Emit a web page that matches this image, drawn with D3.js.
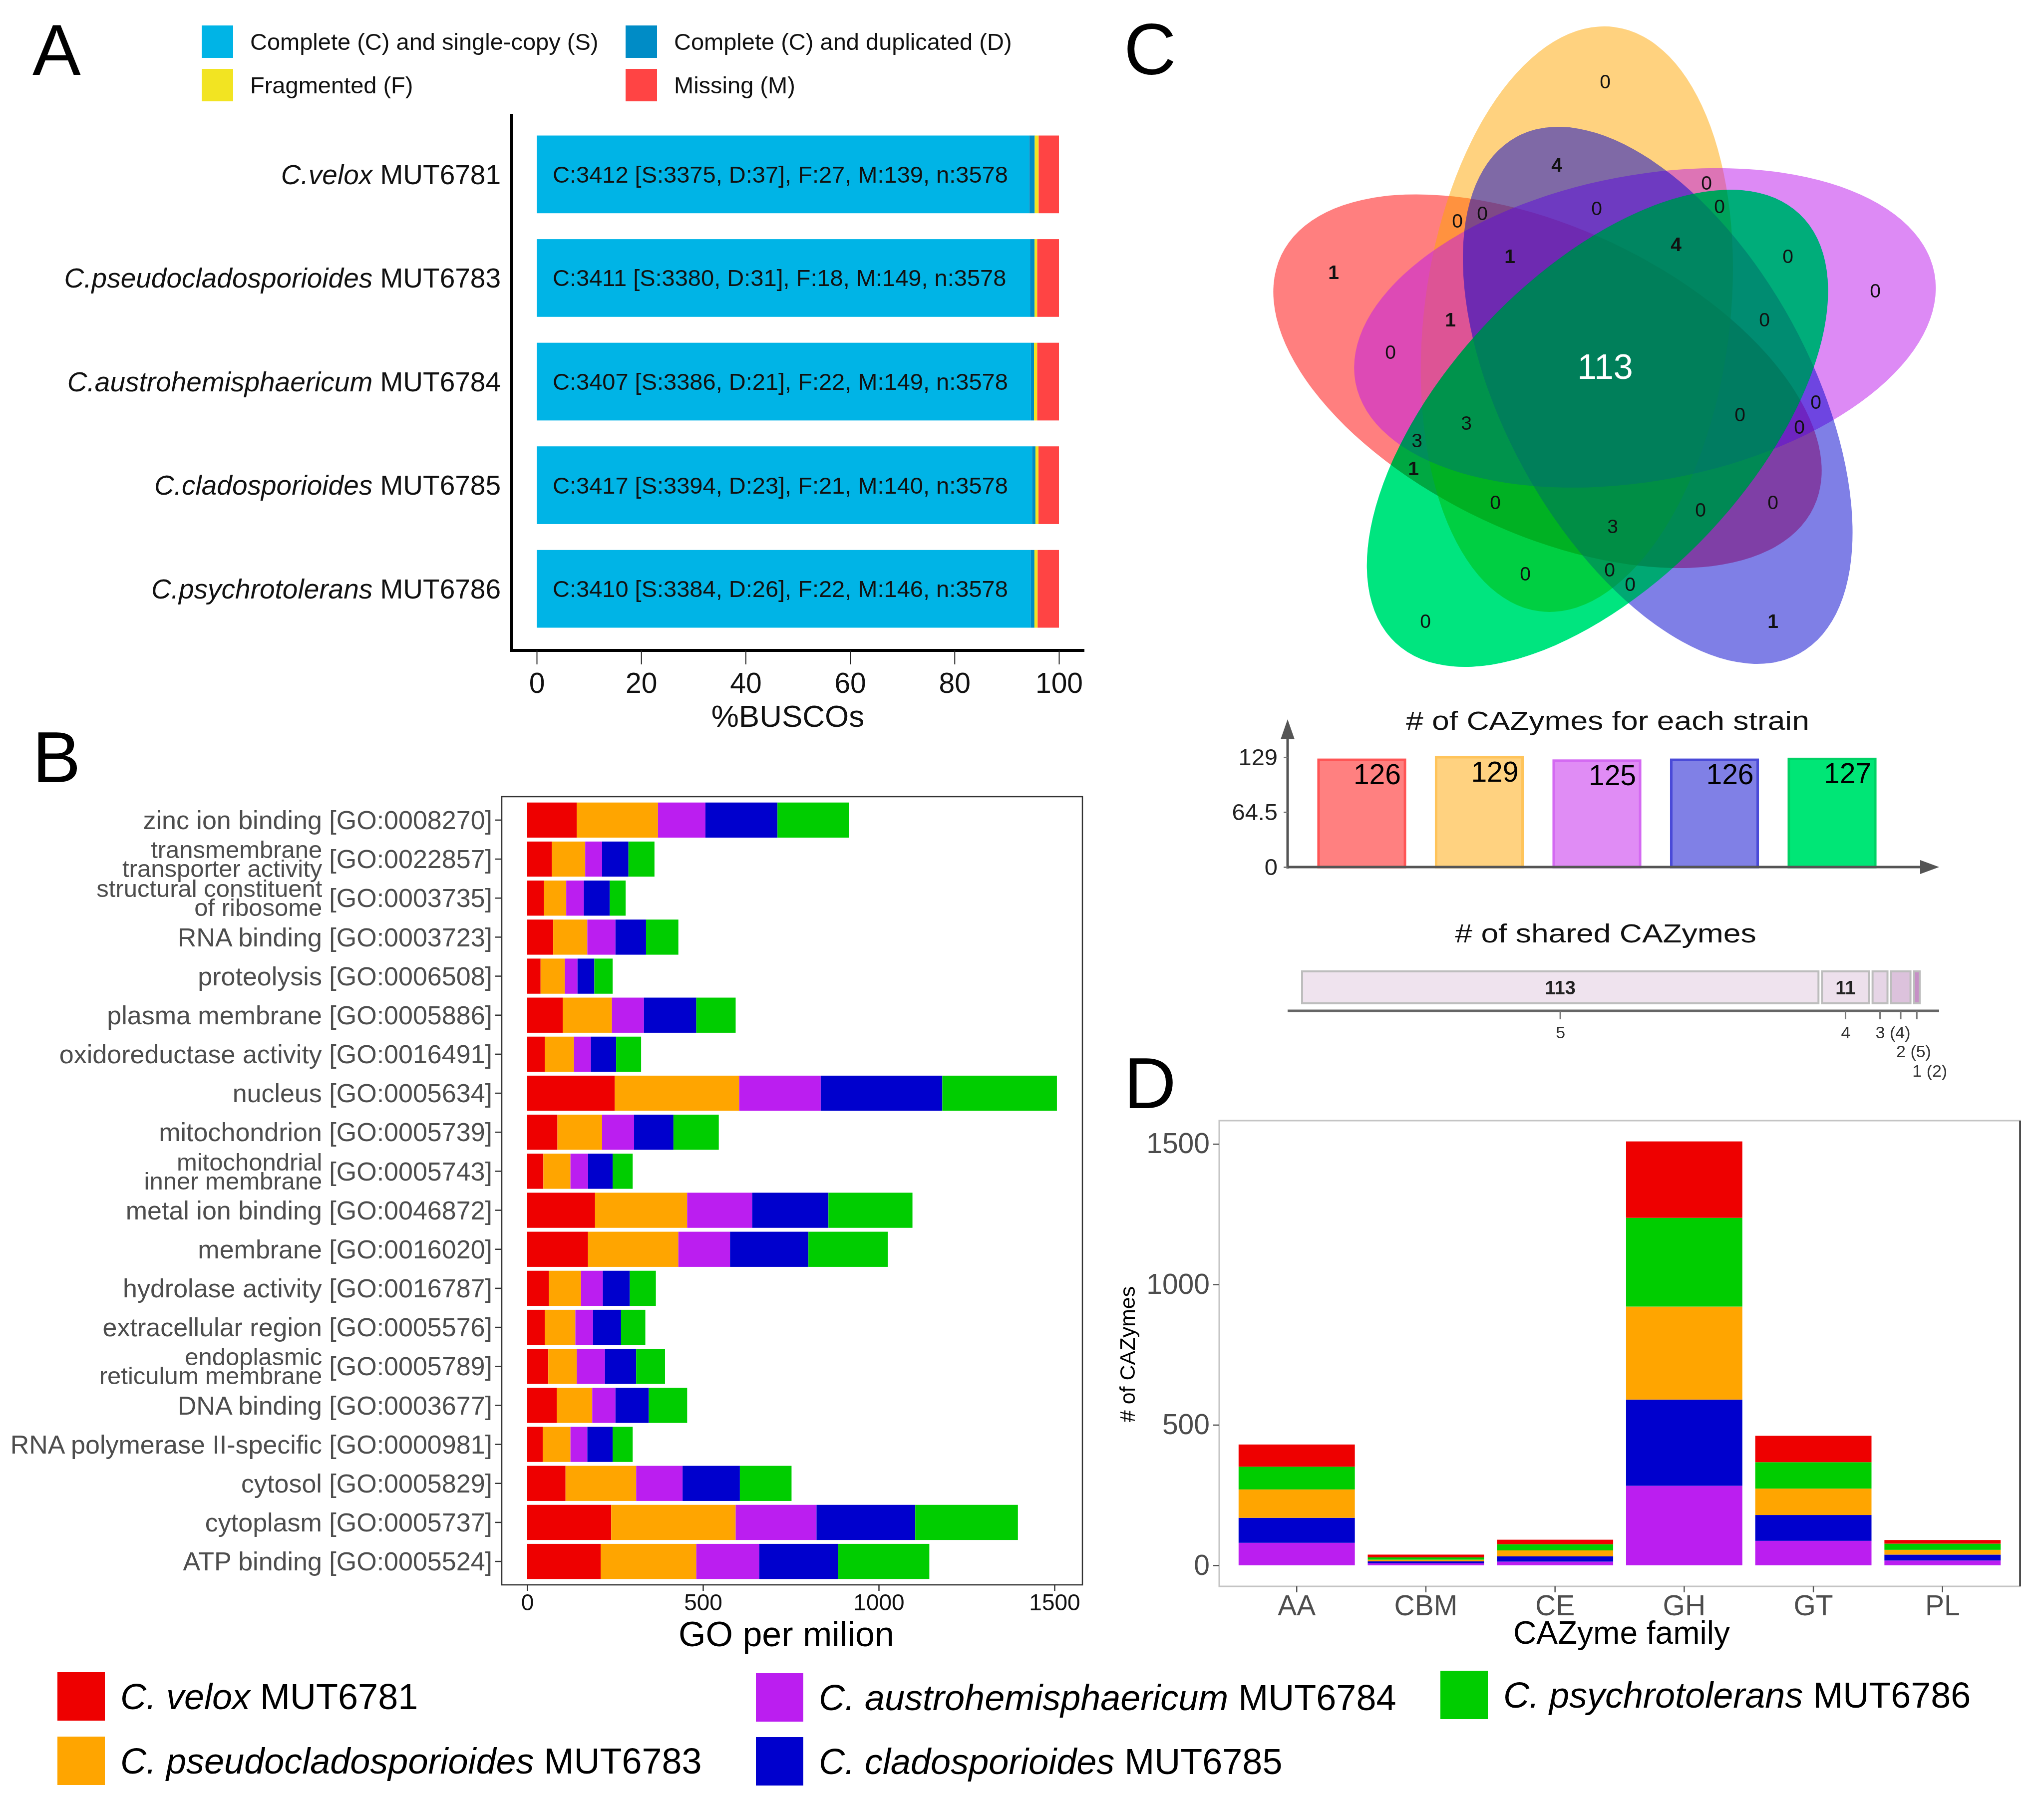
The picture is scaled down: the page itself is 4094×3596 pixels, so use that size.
<!DOCTYPE html>
<html>
<head>
<meta charset="utf-8">
<script src="https://cdn.jsdelivr.net/npm/d3@7"></script>
<style>
body { margin: 0; background: #fff; }
svg { display: block; font-family: "Liberation Sans", Arial, sans-serif; }
</style>
</head>
<body>
<div id="fig"></div>
<script>
// ---- data ----
// panel A (BUSCO)
var buscoSpecies = ["C.velox", "C.pseudocladosporioides", "C.austrohemisphaericum", "C.cladosporioides", "C.psychrotolerans"];
var buscoCodes = ["MUT6781", "MUT6783", "MUT6784", "MUT6785", "MUT6786"];
var buscoS = [3375, 3380, 3386, 3394, 3384];
var buscoD = [37, 31, 21, 23, 26];
var buscoF = [27, 18, 22, 21, 22];
var buscoM = [139, 149, 149, 140, 146];
var buscoN = 3578;
var buscoTicks = [0, 20, 40, 60, 80, 100];
var buscoLegend = ["Complete (C) and single-copy (S)", "Complete (C) and duplicated (D)", "Fragmented (F)", "Missing (M)"];

// panel B (GO per million)
var goNames = ["zinc ion binding", "transmembrane\ntransporter activity", "structural constituent\nof ribosome", "RNA binding",
  "proteolysis", "plasma membrane", "oxidoreductase activity", "nucleus", "mitochondrion", "mitochondrial\ninner membrane",
  "metal ion binding", "membrane", "hydrolase activity", "extracellular region", "endoplasmic\nreticulum membrane",
  "DNA binding", "RNA polymerase II-specific", "cytosol", "cytoplasm", "ATP binding"];
var goIds = ["GO:0008270", "GO:0022857", "GO:0003735", "GO:0003723", "GO:0006508", "GO:0005886", "GO:0016491",
  "GO:0005634", "GO:0005739", "GO:0005743", "GO:0046872", "GO:0016020", "GO:0016787", "GO:0005576", "GO:0005789",
  "GO:0003677", "GO:0000981", "GO:0005829", "GO:0005737", "GO:0005524"];
var goVelox   = [141, 70, 48, 74, 38, 101, 50, 249, 86, 46, 193, 173, 62, 50, 60, 84, 44, 109, 239, 209];
var goPseudo  = [231, 95, 63, 97, 69, 140, 83, 354, 127, 77, 262, 257, 91, 87, 81, 101, 79, 201, 354, 272];
var goAustro  = [135, 48, 50, 80, 36, 91, 48, 232, 91, 50, 185, 147, 62, 50, 80, 66, 48, 132, 230, 179];
var goClado   = [205, 75, 74, 87, 48, 149, 72, 346, 112, 70, 217, 223, 77, 80, 89, 95, 72, 163, 281, 225];
var goPsychro = [203, 74, 45, 92, 52, 112, 71, 326, 129, 57, 239, 226, 74, 69, 82, 109, 57, 147, 292, 259];
var goTicks = [0, 500, 1000, 1500];

// panel C (Venn + counts)
var vennCounts = [0, 4, 0, 0, 0, 0, 0, 1, 1, 4, 0, 0, 1, 0, 0, 113, 0, 0, 3, 0, 3, 1, 0, 0, 0, 3, 0, 0, 0, 0, 1];
var strainTotals = [126, 129, 125, 126, 127];   // velox, pseudo, austro, clado, psychro
var totalTicks = [0, 64.5, 129];
var sharedCounts = [113, 11, 4, 5, 2];
var sharedLabels = ["5", "4", "3 (4)", "2 (5)", "1 (2)"];

// panel D (CAZyme families)
var cazyFamilies = ["AA", "CBM", "CE", "GH", "GT", "PL"];
var cazyAustro  = [80, 7, 13, 283, 87, 17];
var cazyClado   = [89, 7, 19, 307, 92, 21];
var cazyPseudo  = [101, 6, 21, 331, 94, 17];
var cazyPsychro = [81, 8, 22, 316, 94, 22];
var cazyVelox   = [79, 10, 16, 272, 94, 13];
var cazyTicks = [0, 500, 1000, 1500];

// legend
var legSpecies = ["C. velox", "C. pseudocladosporioides", "C. austrohemisphaericum", "C. cladosporioides", "C. psychrotolerans"];
var legCodes = ["MUT6781", "MUT6783", "MUT6784", "MUT6785", "MUT6786"];

// colours
var strainColors = ["#EE0000", "#FFA500", "#BB1EF0", "#0000CD", "#00CD00"];
var vennColors = ["#FF0000", "#FFA500", "#BB15EB", "#0000CD", "#00CD0A"];
var totalFill = ["#FF8080", "#FFD280", "#E08CF5", "#8080E6", "#00E676"];
var totalStroke = ["#FF5555", "#FFC45A", "#D46AF2", "#4A4AD8", "#00D265"];
var sharedFill = ["#EFE3EE", "#EDE0EC", "#E6D5E6", "#DCC2DC", "#C690C6"];

var W = 4094, H = 3596;
var svg = d3.select("#fig").append("svg").attr("width", W).attr("height", H);
svg.append("rect").attr("width", W).attr("height", H).attr("fill", "#fff");

// panel letters
[["A", 65, 150], ["B", 65, 1567], ["C", 2251, 149], ["D", 2251, 2220]].forEach(function (l) {
  svg.append("text").attr("x", l[1]).attr("y", l[2]).attr("font-size", 145).attr("fill", "#000").text(l[0]);
});

// ================= Panel A =================
var gA = svg.append("g");
var legA = [[404, 51, "#00B4E6"], [1253, 51, "#008CC6"], [404, 138, "#F2E422"], [1253, 138, "#FF4444"]];
legA.forEach(function (l, i) {
  gA.append("rect").attr("x", l[0]).attr("y", l[1]).attr("width", 63).attr("height", 65).attr("fill", l[2]);
  gA.append("text").attr("x", l[0] + 97).attr("y", l[1] + 33).attr("dy", "0.35em")
    .attr("font-size", 47).attr("fill", "#111").text(buscoLegend[i]);
});

var xA = d3.scaleLinear().domain([0, 100]).range([1075, 2121]);
var yA = d3.scaleBand().domain(buscoSpecies).range([230, 1299]).paddingInner(0.25).paddingOuter(0.2);

var buscoRows = buscoSpecies.map(function (s, i) {
  return { sp: s, S: buscoS[i] / buscoN * 100, D: buscoD[i] / buscoN * 100, F: buscoF[i] / buscoN * 100, M: buscoM[i] / buscoN * 100, i: i };
});
var stackA = d3.stack().keys(["S", "D", "F", "M"])(buscoRows);
var colA = { S: "#00B4E6", D: "#008CC6", F: "#F2E422", M: "#FF4444" };

gA.selectAll("g.layer").data(stackA).enter().append("g")
  .attr("fill", function (d) { return colA[d.key]; })
  .selectAll("rect").data(function (d) { return d; }).enter().append("rect")
  .attr("x", function (d) { return xA(d[0]); })
  .attr("width", function (d) { return xA(d[1]) - xA(d[0]); })
  .attr("y", function (d) { return yA(d.data.sp); })
  .attr("height", yA.bandwidth());

// text inside bars
gA.selectAll("text.busco").data(buscoRows).enter().append("text")
  .attr("x", xA(0) + 32)
  .attr("y", function (d) { return yA(d.sp) + yA.bandwidth() / 2; })
  .attr("dy", "0.35em").attr("font-size", 47).attr("fill", "#111")
  .text(function (d) {
    var i = d.i;
    return "C:" + (buscoS[i] + buscoD[i]) + " [S:" + buscoS[i] + ", D:" + buscoD[i] + "], F:" + buscoF[i] + ", M:" + buscoM[i] + ", n:" + buscoN;
  });

// y labels
var ylabA = gA.selectAll("text.ylab").data(buscoSpecies).enter().append("text")
  .attr("x", 1003)
  .attr("y", function (d) { return yA(d) + yA.bandwidth() / 2; })
  .attr("dy", "0.35em").attr("text-anchor", "end").attr("font-size", 55).attr("fill", "#111");
ylabA.append("tspan").attr("font-style", "italic").text(function (d) { return d; });
ylabA.append("tspan").text(function (d, i) { return " " + buscoCodes[i]; });

// axes
gA.append("line").attr("x1", 1024).attr("x2", 1024).attr("y1", 228).attr("y2", 1306).attr("stroke", "#000").attr("stroke-width", 6);
gA.append("line").attr("x1", 1021).attr("x2", 2172).attr("y1", 1303).attr("y2", 1303).attr("stroke", "#000").attr("stroke-width", 6);
var axA = gA.append("g").attr("transform", "translate(0,1303)")
  .call(d3.axisBottom(xA).tickValues(buscoTicks).tickSize(28).tickPadding(17));
axA.select(".domain").remove();
axA.selectAll("line").attr("stroke", "#222").attr("stroke-width", 2);
axA.selectAll("text").attr("font-size", 57).attr("fill", "#111").attr("font-family", "Liberation Sans, Arial, sans-serif");
gA.append("text").attr("x", 1578).attr("y", 1434).attr("dy", "0.35em").attr("text-anchor", "middle")
  .attr("font-size", 62).attr("fill", "#111").text("%BUSCOs");

// ================= Panel B =================
var gB = svg.append("g");
var xB = d3.scaleLinear().domain([0, 1500]).range([1056, 2112]);
var yB = d3.scaleBand().domain(goIds).range([1596, 3175]).paddingInner(0.1).paddingOuter(0.15);
var goRows = goIds.map(function (id, i) {
  return { id: id, velox: goVelox[i], pseudo: goPseudo[i], austro: goAustro[i], clado: goClado[i], psychro: goPsychro[i] };
});
var goKeys = ["velox", "pseudo", "austro", "clado", "psychro"];
var stackB = d3.stack().keys(goKeys)(goRows);

gB.append("rect").attr("x", 1005).attr("y", 1596).attr("width", 1163).attr("height", 1579)
  .attr("fill", "none").attr("stroke", "#333").attr("stroke-width", 2.5);

gB.selectAll("g.layer").data(stackB).enter().append("g")
  .attr("fill", function (d, i) { return strainColors[i]; })
  .selectAll("rect").data(function (d) { return d; }).enter().append("rect")
  .attr("x", function (d) { return xB(d[0]); })
  .attr("width", function (d) { return xB(d[1]) - xB(d[0]); })
  .attr("y", function (d) { return yB(d.data.id); })
  .attr("height", yB.bandwidth());

// y ticks + labels
var ylabB = gB.append("g");
goIds.forEach(function (id, i) {
  var cy = yB(id) + yB.bandwidth() / 2;
  ylabB.append("line").attr("x1", 992).attr("x2", 1005).attr("y1", cy).attr("y2", cy).attr("stroke", "#333").attr("stroke-width", 2.5);
  var lines = goNames[i].split("\n");
  if (lines.length === 1) {
    ylabB.append("text").attr("x", 986).attr("y", cy).attr("dy", "0.35em").attr("text-anchor", "end")
      .attr("font-size", 52).attr("fill", "#4D4D4D").text(lines[0] + " [" + id + "]");
  } else {
    var t = ylabB.append("text").attr("x", 986).attr("y", cy).attr("dy", "0.35em").attr("text-anchor", "end")
      .attr("font-size", 52).attr("fill", "#4D4D4D").text("[" + id + "]");
    var w = t.node().getComputedTextLength() + 14;
    lines.forEach(function (ln, k) {
      ylabB.append("text").attr("x", 986 - w).attr("y", cy + (k === 0 ? -19 : 19)).attr("dy", "0.35em")
        .attr("text-anchor", "end").attr("font-size", 49).attr("fill", "#4D4D4D").text(ln);
    });
  }
});

var axB = gB.append("g").attr("transform", "translate(0,3175)")
  .call(d3.axisBottom(xB).tickValues(goTicks).tickSize(12).tickPadding(6).tickFormat(d3.format("d")));
axB.select(".domain").remove();
axB.selectAll("line").attr("stroke", "#333").attr("stroke-width", 2.5);
axB.selectAll("text").attr("font-size", 46).attr("fill", "#111").attr("font-family", "Liberation Sans, Arial, sans-serif");
gB.append("text").attr("x", 1575).attr("y", 3273).attr("dy", "0.35em").attr("text-anchor", "middle")
  .attr("font-size", 70).attr("fill", "#000").text("GO per milion");

// ================= Panel C: Venn =================
var gC = svg.append("g");
var vC = { x: 3214.5, y: 742 }, vR = 117, vDelta = -36, vTheta0 = -82.7, vA = 590, vB = 306;
// ellipse k: 0 orange, 1 purple, 2 blue, 3 green, 4 red (clockwise from top)
var ellOrder = [1, 2, 3, 4, 0]; // strain index for each k (velox=0 ... psychro=4)
var ellipses = d3.range(5).map(function (k) {
  var th = vTheta0 + 72 * k, off = (th + vDelta) * Math.PI / 180;
  return { k: k, s: ellOrder[k], th: th, cx: vC.x + vR * Math.cos(off), cy: vC.y + vR * Math.sin(off) };
});
// draw order: red, orange, purple, blue, green
var drawOrder = [0, 1, 2, 3, 4].map(function (s) { return ellipses.filter(function (e) { return e.s === s; })[0]; });
function ellTransform(d) { return "translate(" + d.cx + "," + d.cy + ") rotate(" + d.th + ")"; }
gC.selectAll("ellipse.set").data(drawOrder).enter().append("ellipse")
  .attr("transform", ellTransform)
  .attr("rx", vA).attr("ry", vB)
  .attr("fill", function (d) { return vennColors[d.s]; })
  .attr("fill-opacity", function (d) { return d.s === 4 ? 0.52 : 0.5; });
// green set: strip the red channel so it stays a vivid green over the other sets
gC.append("ellipse").datum(drawOrder[4])
  .attr("transform", ellTransform)
  .attr("rx", vA).attr("ry", vB)
  .attr("fill", "#00FFFF")
  .style("mix-blend-mode", "multiply");

// region label positions (layout, px)
var vennLabelPos = [[3215, 163], [3118, 330], [3418, 366], [3444, 413], [2919, 442], [2969, 427], [3198, 417],
  [2671, 545], [3024, 513], [3357, 489], [3581, 513], [3756, 582], [2905, 640], [3534, 640], [2785, 705],
  [3215, 734], [3637, 805], [3485, 830], [2937, 847], [3604, 855], [2838, 882], [2831, 938], [2995, 1006],
  [3406, 1021], [3551, 1006], [3230, 1054], [3055, 1149], [3224, 1141], [3265, 1170], [2855, 1244], [3551, 1244]];
gC.selectAll("text.vn").data(vennCounts).enter().append("text")
  .attr("x", function (d, i) { return vennLabelPos[i][0]; })
  .attr("y", function (d, i) { return vennLabelPos[i][1]; })
  .attr("dy", "0.35em").attr("text-anchor", "middle")
  .attr("font-size", function (d) { return d > 50 ? 70 : 39; })
  .attr("font-weight", function (d) { return d === 1 || d === 4 ? "bold" : "normal"; })
  .attr("fill", function (d) { return d > 50 ? "#fff" : "#111"; })
  .text(function (d) { return d; });

// ---- CAZymes for each strain ----
var gT = svg.append("g");
var yT = d3.scaleLinear().domain([0, 129]).range([1737, 1517]);
var xT = d3.scaleBand().domain(d3.range(5)).range([2579, 3818]).paddingInner(0.265).paddingOuter(0.263);
gT.append("text").attr("transform", "translate(3220,1444) scale(1.2,1)").attr("dy", "0.35em").attr("text-anchor", "middle")
  .attr("font-size", 52).attr("fill", "#111").text("# of CAZymes for each strain");
gT.selectAll("rect").data(strainTotals).enter().append("rect")
  .attr("x", function (d, i) { return xT(i); })
  .attr("y", function (d) { return yT(d); })
  .attr("width", xT.bandwidth())
  .attr("height", function (d) { return yT(0) - yT(d); })
  .attr("fill", function (d, i) { return totalFill[i]; })
  .attr("stroke", function (d, i) { return totalStroke[i]; })
  .attr("stroke-width", 5);
gT.selectAll("text.val").data(strainTotals).enter().append("text")
  .attr("x", function (d, i) { return xT(i) + xT.bandwidth() - 8; })
  .attr("y", function (d) { return yT(d) + 49; })
  .attr("text-anchor", "end").attr("font-size", 57).attr("fill", "#000")
  .text(function (d) { return d; });
// arrows axes
gT.append("line").attr("x1", 2579).attr("x2", 2579).attr("y1", 1740).attr("y2", 1470).attr("stroke", "#555").attr("stroke-width", 5);
gT.append("line").attr("x1", 2577).attr("x2", 3850).attr("y1", 1737).attr("y2", 1737).attr("stroke", "#555").attr("stroke-width", 5);
gT.append("path").attr("d", "M2579,1441 L2593,1481 L2565,1481 Z").attr("fill", "#555");
gT.append("path").attr("d", "M3884,1737 L3846,1723 L3846,1751 Z").attr("fill", "#555");
var axT = gT.append("g").attr("transform", "translate(2579,0)")
  .call(d3.axisLeft(yT).tickValues(totalTicks).tickSize(8).tickPadding(12).tickFormat(function (d) { return d; }));
axT.select(".domain").remove();
axT.selectAll("line").attr("stroke", "#777").attr("stroke-width", 3);
axT.selectAll("text").attr("font-size", 47).attr("fill", "#222").attr("font-family", "Liberation Sans, Arial, sans-serif");

// ---- shared CAZymes ----
var gS = svg.append("g");
gS.append("text").attr("transform", "translate(3216,1870) scale(1.2,1)").attr("dy", "0.35em").attr("text-anchor", "middle")
  .attr("font-size", 52).attr("fill", "#111").text("# of shared CAZymes");
var xS = d3.scaleLinear().domain([0, d3.sum(sharedCounts)]).range([2608, 3852]);
var cum = 0;
var sharedRows = sharedCounts.map(function (c, i) {
  var r = { c: c, x0: cum, x1: cum + c, lab: sharedLabels[i], i: i };
  cum += c;
  return r;
});
gS.selectAll("rect").data(sharedRows).enter().append("rect")
  .attr("x", function (d) { return xS(d.x0); })
  .attr("width", function (d) { return Math.max(xS(d.x1) - xS(d.x0) - 7, 4); })
  .attr("y", 1946).attr("height", 64)
  .attr("fill", function (d) { return sharedFill[d.i]; })
  .attr("stroke", "#BDBDBD").attr("stroke-width", 4);
gS.selectAll("text.cnt").data(sharedRows.filter(function (d) { return d.c > 8; })).enter().append("text")
  .attr("x", function (d) { return (xS(d.x0) + xS(d.x1) - 7) / 2; })
  .attr("y", 1979).attr("dy", "0.35em").attr("text-anchor", "middle")
  .attr("font-size", 38).attr("font-weight", "bold").attr("fill", "#222")
  .text(function (d) { return d.c; });
gS.append("line").attr("x1", 2579).attr("x2", 3884).attr("y1", 2025).attr("y2", 2025).attr("stroke", "#666").attr("stroke-width", 5);
sharedRows.forEach(function (d, i) {
  var cx = (xS(d.x0) + xS(d.x1) - 7) / 2;
  gS.append("line").attr("x1", cx).attr("x2", cx).attr("y1", 2025).attr("y2", 2042).attr("stroke", "#777").attr("stroke-width", 3);
  gS.append("text").attr("x", cx - 9).attr("y", 2068 + Math.max(0, i - 2) * 38.5).attr("dy", "0.35em")
    .attr("font-size", 34).attr("fill", "#333").text(d.lab);
});

// ================= Panel D =================
var gD = svg.append("g");
var xD = d3.scaleBand().domain(cazyFamilies).range([2442, 4046]).paddingInner(0.1).paddingOuter(0.15);
var yD = d3.scaleLinear().domain([-75, 1583]).range([3178, 2245]);
var cazyRows = cazyFamilies.map(function (f, i) {
  return { fam: f, austro: cazyAustro[i], clado: cazyClado[i], pseudo: cazyPseudo[i], psychro: cazyPsychro[i], velox: cazyVelox[i] };
});
var cazyKeys = ["austro", "clado", "pseudo", "psychro", "velox"];
var cazyCol = { austro: strainColors[2], clado: strainColors[3], pseudo: strainColors[1], psychro: strainColors[4], velox: strainColors[0] };
var stackD = d3.stack().keys(cazyKeys)(cazyRows);

gD.selectAll("g.layer").data(stackD).enter().append("g")
  .attr("fill", function (d) { return cazyCol[d.key]; })
  .selectAll("rect").data(function (d) { return d; }).enter().append("rect")
  .attr("x", function (d) { return xD(d.data.fam); })
  .attr("width", xD.bandwidth())
  .attr("y", function (d) { return yD(d[1]); })
  .attr("height", function (d) { return yD(d[0]) - yD(d[1]); });

gD.append("rect").attr("x", 2442).attr("y", 2245).attr("width", 1604).attr("height", 933)
  .attr("fill", "none").attr("stroke", "#C4C4C4").attr("stroke-width", 3);
gD.append("line").attr("x1", 4046).attr("x2", 4046).attr("y1", 2245).attr("y2", 3178).attr("stroke", "#222").attr("stroke-width", 3);

var axDy = gD.append("g").attr("transform", "translate(2442,0)")
  .call(d3.axisLeft(yD).tickValues(cazyTicks).tickSize(12).tickPadding(7).tickFormat(d3.format("d")));
axDy.select(".domain").remove();
axDy.selectAll("line").attr("stroke", "#555").attr("stroke-width", 2.5);
axDy.selectAll("text").attr("font-size", 57).attr("fill", "#4D4D4D").attr("font-family", "Liberation Sans, Arial, sans-serif");
var axDx = gD.append("g").attr("transform", "translate(0,3178)")
  .call(d3.axisBottom(xD).tickSize(12).tickPadding(6));
axDx.select(".domain").remove();
axDx.selectAll("line").attr("stroke", "#555").attr("stroke-width", 2.5);
axDx.selectAll("text").attr("font-size", 57).attr("fill", "#4D4D4D").attr("font-family", "Liberation Sans, Arial, sans-serif");
gD.append("text").attr("x", 3248).attr("y", 3271).attr("dy", "0.35em").attr("text-anchor", "middle")
  .attr("font-size", 64).attr("fill", "#000").text("CAZyme family");
gD.append("text").attr("transform", "translate(2258,2713) rotate(-90)").attr("dy", "0.35em").attr("text-anchor", "middle")
  .attr("font-size", 43).attr("fill", "#000").text("# of CAZymes");

// ================= bottom legend =================
var legPos = [[115, 3350], [115, 3479], [1514, 3352], [1514, 3480], [2885, 3347]];
var gL = svg.append("g");
legSpecies.forEach(function (s, i) {
  var p = legPos[i];
  gL.append("rect").attr("x", p[0]).attr("y", p[1]).attr("width", 95).attr("height", 97).attr("fill", strainColors[i]);
  var t = gL.append("text").attr("x", p[0] + 126).attr("y", p[1] + 49).attr("dy", "0.35em")
    .attr("font-size", 72).attr("fill", "#000");
  t.append("tspan").attr("font-style", "italic").text(s);
  t.append("tspan").text(" " + legCodes[i]);
});
</script>
</body>
</html>
